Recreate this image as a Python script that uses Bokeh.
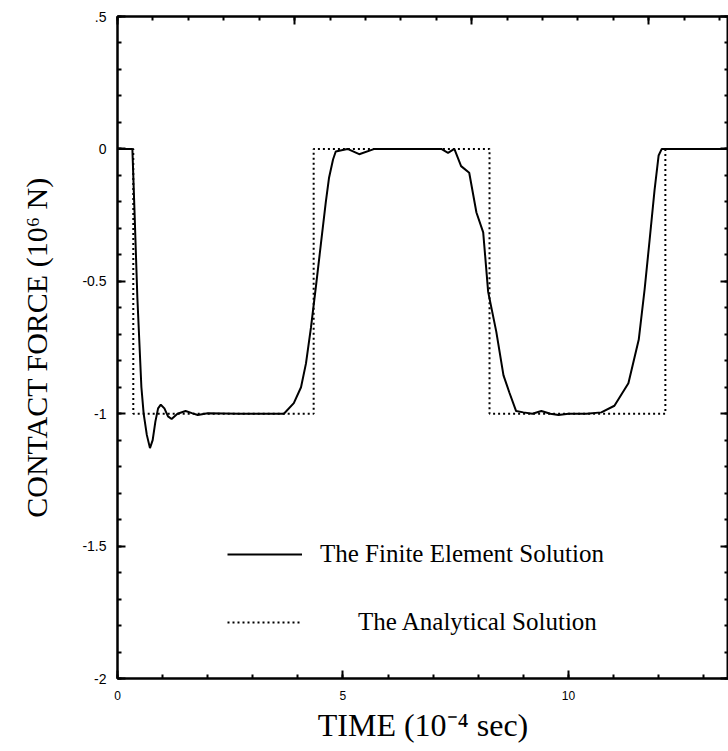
from bokeh.plotting import figure
from bokeh.models import Range1d, LinearAxis, FixedTicker, Legend, LegendItem
from bokeh.embed import file_html
from bokeh.resources import INLINE

# Contact force history (time in 1e-4 s, force in 1e6 N)
fe_time = [0, 0.33, 0.38, 0.44, 0.53, 0.58, 0.65, 0.72, 0.78, 0.84, 0.9, 0.96,
           1.04, 1.12, 1.2, 1.33, 1.51, 1.65, 1.78, 2.0, 2.7, 3.2, 3.69, 3.91,
           4.07, 4.18, 4.29, 4.4, 4.51, 4.62, 4.69, 4.78, 4.84, 5.1, 5.36, 5.7,
           6.5, 7.18, 7.33, 7.47, 7.62, 7.8, 7.96, 8.11, 8.22, 8.4, 8.56, 8.69,
           8.84, 9.0, 9.2, 9.4, 9.6, 9.78, 10.0, 10.4, 10.73, 11.02, 11.33, 11.56,
           11.69, 11.8, 11.91, 12.0, 12.07, 13.55]
fe_force = [0, 0, -0.25, -0.56, -0.9, -1.0, -1.08, -1.13, -1.1, -1.03, -0.98, -0.966,
            -0.98, -1.01, -1.02, -1.0, -0.99, -0.998, -1.005, -0.998, -1.0, -1.0, -1.0, -0.96,
            -0.9, -0.81, -0.675, -0.52, -0.36, -0.2, -0.11, -0.04, -0.01, 0, -0.02, 0,
            0, 0, -0.015, 0, -0.065, -0.09, -0.24, -0.315, -0.54, -0.69, -0.855, -0.92,
            -0.99, -0.995, -1.0, -0.99, -1.0, -1.005, -1.0, -1.0, -0.995, -0.97, -0.885, -0.72,
            -0.53, -0.345, -0.156, -0.025, 0, 0]

an_time = [0, 0.35, 0.35, 4.35, 4.35, 8.25, 8.25, 12.15, 12.15, 13.55]
an_force = [0, 0, -1, -1, 0, 0, -1, -1, 0, 0]

x_major = [0, 5, 10]
x_minor = list(range(0, 14))
y_major = [-2, -1.5, -1, -0.5, 0, 0.5]
y_minor = [i / 10 for i in range(-20, 6)]
y_labels = {-2: "-2", -1.5: "-1.5", -1: "-1", -0.5: "-0.5", 0: "0", 0.5: ".5"}
x_labels = {0: "0", 5: "5", 10: "10"}
top_major = [0, 5, 10, 15]
top_minor = list(range(0, 18))

SERIF = "Liberation Serif"

p = figure(width=728, height=751, x_range=Range1d(0, 13.55), y_range=Range1d(-2, 0.5),
           output_backend="svg", toolbar_location=None,
           min_border_left=117, min_border_right=0, min_border_top=16, min_border_bottom=73)
p.extra_x_ranges = {"top": Range1d(0, 17.25)}
p.xgrid.visible = False
p.ygrid.visible = False
p.outline_line_color = "black"
p.outline_line_width = 2
p.background_fill_color = "white"
p.border_fill_color = "white"


def style_axis(ax, size=None):
    ax.axis_line_width = 2
    ax.axis_line_color = "black"
    ax.major_tick_in = 8
    ax.major_tick_out = 0
    ax.minor_tick_in = 4
    ax.minor_tick_out = 0
    ax.major_tick_line_width = 2
    ax.minor_tick_line_width = 2
    ax.major_label_text_font = "Liberation Sans"
    ax.major_label_text_color = "black"
    if size:
        ax.major_label_text_font_size = size
    else:
        ax.major_label_standoff = 0


xa = p.xaxis[0]
xa.ticker = FixedTicker(ticks=x_major, minor_ticks=x_minor)
xa.major_label_overrides = x_labels
style_axis(xa, "12px")
xa.major_label_standoff = 12
xa.axis_label = "TIME (10\u207b\u2074 sec)"
xa.axis_label_text_font = SERIF
xa.axis_label_text_font_size = "32px"
xa.axis_label_text_font_style = "normal"
xa.axis_label_text_color = "black"
xa.axis_label_standoff = 4

ya = p.yaxis[0]
ya.ticker = FixedTicker(ticks=y_major, minor_ticks=y_minor)
ya.major_label_overrides = y_labels
style_axis(ya, "14px")
ya.major_label_standoff = 11
ya.axis_label = "CONTACT FORCE (10\u2076 N)"
ya.axis_label_text_font = SERIF
ya.axis_label_text_font_size = "30px"
ya.axis_label_text_font_style = "normal"
ya.axis_label_text_color = "black"
ya.axis_label_standoff = 26

# mirrored tick marks on the right and top edges, no numbers
right = LinearAxis(ticker=FixedTicker(ticks=y_major, minor_ticks=y_minor),
                   major_label_overrides={t: "" for t in y_major})
style_axis(right)
p.add_layout(right, "right")

top = LinearAxis(x_range_name="top", ticker=FixedTicker(ticks=top_major, minor_ticks=top_minor),
                 major_label_overrides={t: "" for t in top_major})
style_axis(top)
p.add_layout(top, "above")

r_an = p.line(an_time, an_force, line_color="black", line_width=2, line_dash="2 3")
r_fe = p.line(fe_time, fe_force, line_color="black", line_width=2)

leg_fe = Legend(items=[LegendItem(label="The Finite Element Solution", renderers=[r_fe])],
                location=(110, 110), glyph_width=75, glyph_height=20, label_standoff=18)
leg_an = Legend(items=[LegendItem(label="The Analytical Solution", renderers=[r_an])],
                location=(110, 42), glyph_width=73, glyph_height=20, label_standoff=58)
for lg in (leg_fe, leg_an):
    lg.border_line_color = None
    lg.background_fill_alpha = 0
    lg.label_text_font = SERIF
    lg.label_text_font_size = "25px"
    lg.label_text_color = "black"
    lg.padding = 0
    lg.margin = 0
    p.add_layout(lg)

open("out.html", "w").write(file_html(p, INLINE))
